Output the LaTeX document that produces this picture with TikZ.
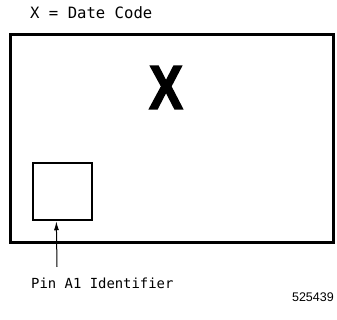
\documentclass[tikz,border=0pt]{standalone}
\usepackage{fontspec}
\setmainfont{DejaVu Sans}
\newfontfamily\labelfont{DejaVu Sans Mono}
\newfontfamily\boldfont{Liberation Sans}
\newfontfamily\xfont[BoldFeatures={FakeBold=2.5}]{Liberation Sans}
\usetikzlibrary{arrows.meta,calc}
\begin{document}
\begin{tikzpicture}[x=1pt,y=1pt,
  lbl/.style={inner sep=0pt, font=\labelfont\fontsize{15.6}{17}\selectfont},
  ]
\useasboundingbox (0,0) rectangle (337,320);
\node[lbl, anchor=west] (key) at (30,307.5) {X = Date Code};
\node[draw, line width=3pt, minimum width=323pt, minimum height=208pt, inner sep=0pt] (chip) at (171.5,181) {};
\node[inner sep=0pt, font=\xfont\bfseries\fontsize{62}{64}\selectfont, xscale=0.82] (x) at (166,232.5) {X};
\node[draw, line width=2.5pt, minimum width=59pt, minimum height=57pt, inner sep=0pt] (pin) at (62.5,128.5) {};
\node[lbl, anchor=west, font=\labelfont\fontsize{13.9}{15}\selectfont] (pinlbl) at (31,36.5) {Pin A1 Identifier};
\coordinate (tail) at (57,53);
\draw[line width=1pt, -{Latex[length=9pt,width=5pt]}] (tail) -- ($(pin.south west)!0.4!(pin.south east)$);
\node[inner sep=0pt, anchor=east, font=\boldfont\fontsize{12.5}{14}\selectfont] (num) at (334,23) {525439};
\end{tikzpicture}
\end{document}
